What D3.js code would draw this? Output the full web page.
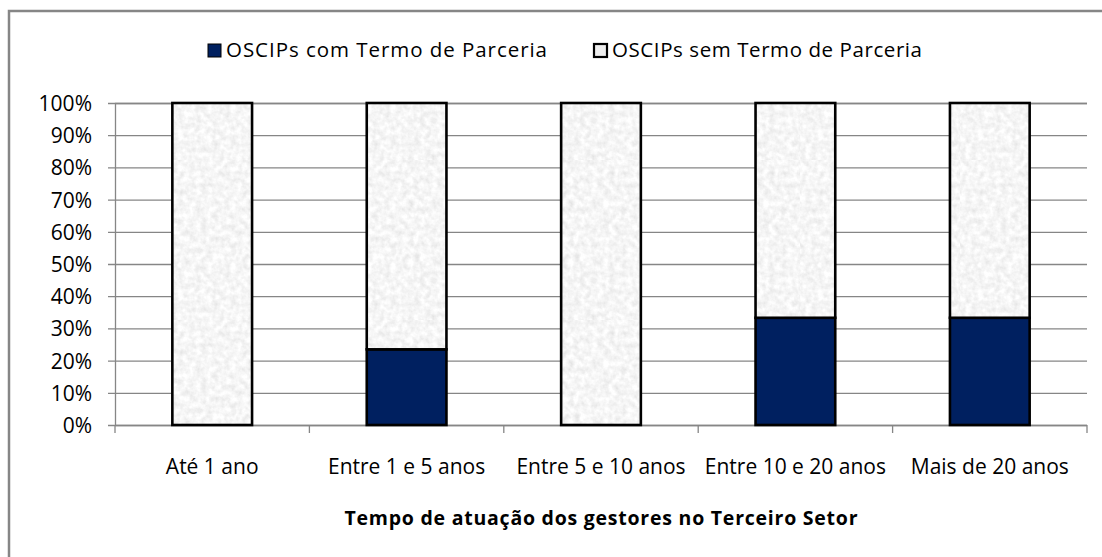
<!DOCTYPE html>
<html>
<head>
<meta charset="utf-8">
<script src="https://cdn.jsdelivr.net/npm/d3@7"></script>
<style>
  body { margin: 0; background: #fff; }
  text { font-family: "Open Sans", sans-serif; fill: #000; }
</style>
</head>
<body>
<div id="chart"></div>
<script>
/* Chart data */
const categories = ["Até 1 ano", "Entre 1 e 5 anos", "Entre 5 e 10 anos", "Entre 10 e 20 anos", "Mais de 20 anos"];
const comTermo = [0, 23.5, 0, 33.3, 33.3];
const semTermo = [100, 76.5, 100, 66.7, 66.7];
const seriesNames = ["OSCIPs com Termo de Parceria", "OSCIPs sem Termo de Parceria"];
const yTicks = [0, 10, 20, 30, 40, 50, 60, 70, 80, 90, 100];
const xTitle = "Tempo de atuação dos gestores no Terceiro Setor";

const width = 1102, height = 557;
const margins = {top: 103, right: 15, bottom: 132, left: 115};

const svg = d3.select("#chart")
  .append("svg")
    .attr("width", width)
    .attr("height", height)
    .attr("viewBox", [0, 0, width, height]);

/* Speckled light grey texture for the second series */
const defs = svg.append("defs");
const filter = defs.append("filter")
  .attr("id", "speckle")
  .attr("x", 0).attr("y", 0).attr("width", 1).attr("height", 1);
filter.append("feTurbulence")
  .attr("type", "fractalNoise")
  .attr("baseFrequency", 0.17)
  .attr("numOctaves", 3)
  .attr("seed", 3);
filter.append("feColorMatrix")
  .attr("type", "matrix")
  .attr("values", "0.34 0 0 0 0.75  0.34 0 0 0 0.75  0.34 0 0 0 0.75  0 0 0 0 1");
const pattern = defs.append("pattern")
  .attr("id", "texture")
  .attr("patternUnits", "userSpaceOnUse")
  .attr("width", 160).attr("height", 160);
pattern.append("rect")
  .attr("width", 160).attr("height", 160)
  .attr("filter", "url(#speckle)");

const colors = ["#002060", "url(#texture)"];

/* Outer chart frame */
svg.append("rect")
  .attr("x", 9).attr("y", 11)
  .attr("width", width + 20).attr("height", height + 20)
  .attr("fill", "none")
  .attr("stroke", "#868686")
  .attr("stroke-width", 2.5);

/* Scales */
const xOuter = d3.scaleBand()
  .domain(categories)
  .range([margins.left, width - margins.right]);

const xScale = d3.scaleBand()
  .domain(categories)
  .range([margins.left, width - margins.right])
  .paddingInner(0.59)
  .paddingOuter(0.295);

const yScale = d3.scaleLinear()
  .domain([0, 100])
  .range([height - margins.bottom, margins.top]);

/* Gridlines + y axis */
const yAxis = d3.axisLeft(yScale)
  .tickValues(yTicks)
  .tickFormat(d => d + "%")
  .tickSize(-(width - margins.right - margins.left))
  .tickPadding(0);

const yGroup = svg.append("g")
  .attr("transform", `translate(${margins.left}, 0)`)
  .call(yAxis);
yGroup.select(".domain").attr("stroke", "#868686").attr("stroke-width", 1.3);
yGroup.selectAll(".tick line")
  .attr("x1", -7)
  .attr("stroke", "#868686")
  .attr("stroke-width", 1.3);
yGroup.selectAll(".tick text")
  .attr("x", -23)
  .attr("dy", "0.36em")
  .style("font-size", "21px")
  .style("font-family", "Open Sans");

/* x axis: ticks between categories */
const xTickPos = categories.map(c => xOuter(c)).concat([xOuter.range()[1]]);
svg.append("g")
  .selectAll("line")
  .data(xTickPos)
  .join("line")
    .attr("x1", d => d).attr("x2", d => d)
    .attr("y1", yScale(0)).attr("y2", yScale(0) + 8)
    .attr("stroke", "#868686")
    .attr("stroke-width", 1.3);

svg.append("g")
  .selectAll("text")
  .data(categories)
  .join("text")
    .attr("x", d => xOuter(d) + xOuter.bandwidth() / 2)
    .attr("y", 474)
    .attr("text-anchor", "middle")
    .style("font-size", "21px")
    .text(d => d);

/* Stacked bars */
const rows = categories.map((c, i) => ({category: c, com: comTermo[i], sem: semTermo[i]}));
const stack = d3.stack().keys(["com", "sem"]);
const stacked = stack(rows);

svg.append("g")
  .selectAll("g")
  .data(stacked)
  .join("g")
    .attr("fill", (d, i) => colors[i])
  .selectAll("rect")
  .data(d => d.filter(s => s[1] - s[0] > 0))
  .join("rect")
    .attr("x", d => xScale(d.data.category))
    .attr("y", d => yScale(d[1]))
    .attr("width", xScale.bandwidth())
    .attr("height", d => yScale(d[0]) - yScale(d[1]))
    .attr("stroke", "#000")
    .attr("stroke-width", 2.6);

/* Legend */
const legendX = [207, 593];
const legendW = [321, 310];
const legend = svg.append("g")
  .selectAll("g")
  .data(seriesNames)
  .join("g");
legend.append("rect")
  .attr("x", (d, i) => legendX[i] + 1)
  .attr("y", 44)
  .attr("width", 13).attr("height", 13)
  .attr("fill", (d, i) => i === 0 ? "#002060" : "#eeeeee")
  .attr("stroke", "#000")
  .attr("stroke-width", (d, i) => i === 0 ? 1 : 2.2);
legend.append("text")
  .attr("x", (d, i) => legendX[i] + 19)
  .attr("y", 57)
  .attr("textLength", (d, i) => legendW[i])
  .attr("lengthAdjust", "spacing")
  .style("font-size", "20.5px")
  .text(d => d);

/* x axis title */
svg.append("text")
  .attr("x", (margins.left + width - margins.right) / 2)
  .attr("y", 525)
  .attr("text-anchor", "middle")
  .attr("textLength", 513)
  .attr("lengthAdjust", "spacing")
  .style("font-size", "19.5px")
  .style("font-weight", "bold")
  .text(xTitle);
</script>
</body>
</html>
